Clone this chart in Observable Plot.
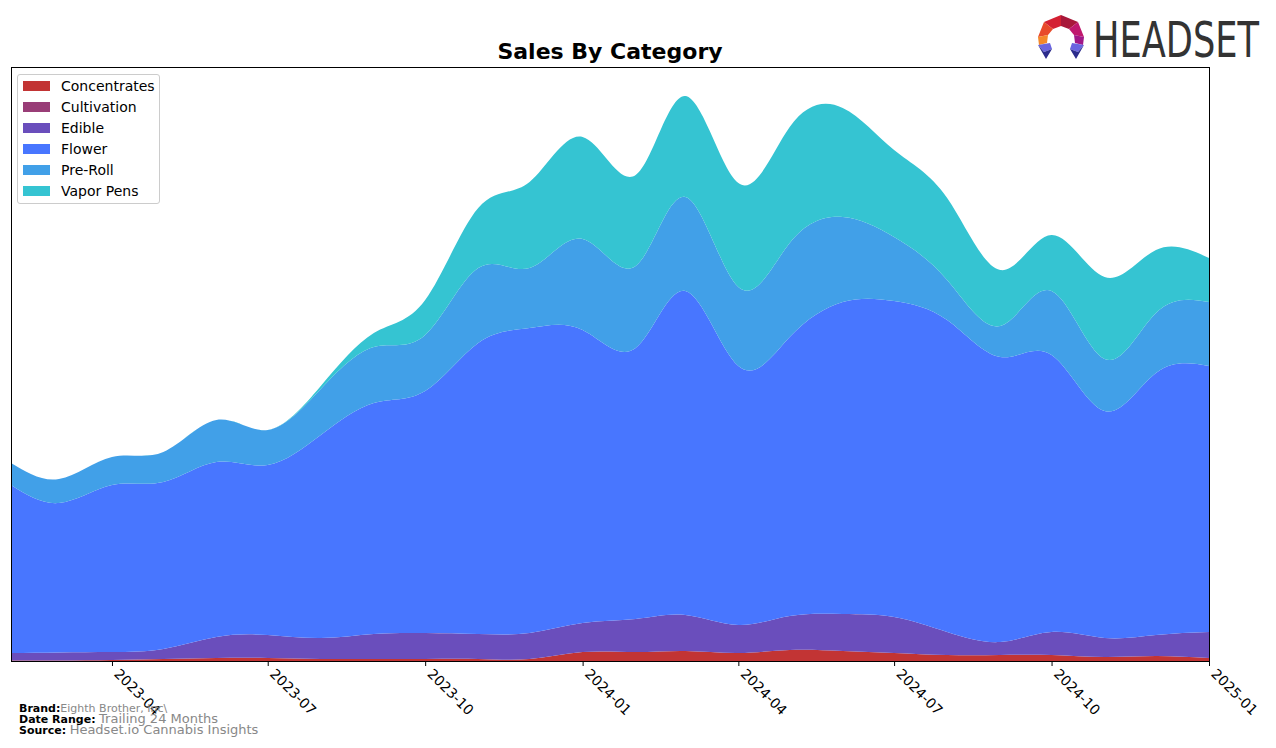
<!DOCTYPE html>
<html>
<head>
<meta charset="utf-8">
<script src="https://cdn.jsdelivr.net/npm/d3@7"></script>
<script src="https://cdn.jsdelivr.net/npm/@observablehq/plot@0.6"></script>
<style>
  html, body { margin: 0; padding: 0; background: #fff; }
  #wrap { position: relative; width: 1276px; height: 748px; font-family: "DejaVu Sans", sans-serif; overflow: hidden; }
  #chart { position: absolute; left: 0; top: 0; }
  #title { position: absolute; left: 0; width: 1220px; top: 39px; text-align: center; font-weight: bold; font-size: 22px; color: #000; }
  #legend { position: absolute; left: 17px; top: 74px; width: 143px; height: 130px; background: rgba(255,255,255,0.8); border: 1px solid #ccc; border-radius: 3px; box-sizing: border-box; }
  .li { position: absolute; left: 5px; height: 21px; font-size: 14px; line-height: 21px; color: #000; white-space: nowrap; }
  .sw { display: inline-block; width: 27px; height: 10px; vertical-align: middle; margin-right: 11px; margin-top: -2px; }
  #footer { position: absolute; left: 19px; top: 704px; font-size: 11px; line-height: 10px; }
  #footer b { color: #000; }
  #footer span { color: #888; }
  #logo { position: absolute; left: 1030px; top: 8px; }
</style>
</head>
<body>
<div id="wrap">
  <div id="chart"></div>
  <div id="title">Sales By Category</div>
  <div id="legend"></div>
  <div id="footer">
    <div><b>Brand:</b><span>Eighth Brother, Inc\</span></div>
    <div><b>Date Range:</b> <span style="font-size:13px">Trailing 24 Months</span></div>
    <div><b>Source:</b> <span style="font-size:13px">Headset.io Cannabis Insights</span></div>
  </div>
  <svg id="logo" width="240" height="60" viewBox="0 0 240 60">
    <polygon points="14,14 31,7 31,18 23,21" fill="#d42032"/>
    <polygon points="31,7 48,14 39,21 31,18" fill="#a8183a"/>
    <polygon points="14,14 23,21 18,27 8,29" fill="#e84a2a"/>
    <polygon points="8,29 18,27 17,35 9,37" fill="#f4892a"/>
    <polygon points="48,14 54,29 44,27 39,21" fill="#c0186e"/>
    <polygon points="54,29 53,37 45,35 44,27" fill="#a01888"/>
    <polygon points="8,37 20,35 22,41 14,44" fill="#6a64e0"/>
    <polygon points="8,37 14,44 22,41 16,51" fill="#2c2c8c"/>
    <polygon points="54,37 42,35 40,41 48,44" fill="#6a64e0"/>
    <polygon points="54,37 48,44 40,41 46,51" fill="#2c2c8c"/>
    <text x="63" y="49" font-family="'DejaVu Sans', sans-serif" font-size="49" fill="#333" textLength="166" lengthAdjust="spacingAndGlyphs">HEADSET</text>
  </svg>
</div>
<script>
// Monthly data (arbitrary sales units)
const months = ["2023-02","2023-03","2023-04","2023-05","2023-06","2023-07","2023-08","2023-09","2023-10","2023-11","2023-12",
  "2024-01","2024-02","2024-03","2024-04","2024-05","2024-06","2024-07","2024-08","2024-09","2024-10","2024-11","2024-12","2025-01"];
const categories = ["Concentrates","Cultivation","Edible","Flower","Pre-Roll","Vapor Pens"];
const colors = ["#c23434","#993d77","#6a4ebc","#4876ff","#41a0e8","#35c4d2"];
const concentrates = [0.5,0.5,1,2,3,3,2,2,2,2,2,9,9,10,8,11,10,8,6,6,6,4,5,3];
const cultivation  = [0,0,0,0,0,0,0,0,0,0,0,0,0,0,0,0,0,0,0,0,0,0,0,0];
const edible       = [7.5,8,8,10,21,23,21,25,26,25,26,29,33,36,28,34,37,36,23,13,23,19,21,26];
const flower       = [168,149.5,167,167,175,170,203,231,242,291,305,293,271,324,259,279,312,316,312,285,277,227,262,266];
const preRoll      = [22,24,28,30,42,35,46,56,56,75,60,91,82,94,79,94,85,64,40,31,64,52,60,64];
const vaporPens    = [0,0,0,0,0,0,3,14,35,60,86,102,91,101,104,116,109,87,82,56,56,82,63,44];
const tickLabels = ["2023-04","2023-07","2023-10","2024-01","2024-04","2024-07","2024-10","2025-01"];

const series = [concentrates, cultivation, edible, flower, preRoll, vaporPens];
const parse = d3.utcParse("%Y-%m");
const rows = [];
categories.forEach((c, i) => months.forEach((m, j) => rows.push({date: parse(m), category: c, value: series[i][j]})));
const tickDates = tickLabels.map(parse);

const chart = Plot.plot({
  width: 1276,
  height: 748,
  marginLeft: 11,
  marginRight: 67,
  marginTop: 67,
  marginBottom: 87,
  style: {fontFamily: "'DejaVu Sans', sans-serif", background: "transparent"},
  x: {type: "utc", domain: [parse(months[0]), parse(months[months.length - 1])]},
  y: {domain: [0, 594], axis: null},
  color: {domain: categories, range: colors},
  marks: [
    Plot.areaY(rows, Plot.stackY({x: "date", y: "value", z: "category", fill: "category", order: categories, curve: "natural"})),
    Plot.frame({stroke: "#000", strokeWidth: 1}),
    Plot.axisX({ticks: tickDates, tickSize: 5, tickFormat: () => "", stroke: "#000"}),
    Plot.axisX({ticks: tickDates, tickFormat: d3.utcFormat("%Y-%m"), tickRotate: 45, tickSize: 0, tickPadding: 10, dx: 4, fontSize: 14, fill: "#000"})
  ]
});
document.getElementById("chart").appendChild(chart);

const legend = document.getElementById("legend");
categories.forEach((c, i) => {
  const d = document.createElement("div");
  d.className = "li";
  d.style.top = (1 + i * 21) + "px";
  d.innerHTML = `<span class="sw" style="background:${colors[i]}"></span>${c}`;
  legend.appendChild(d);
});
</script>
</body>
</html>
